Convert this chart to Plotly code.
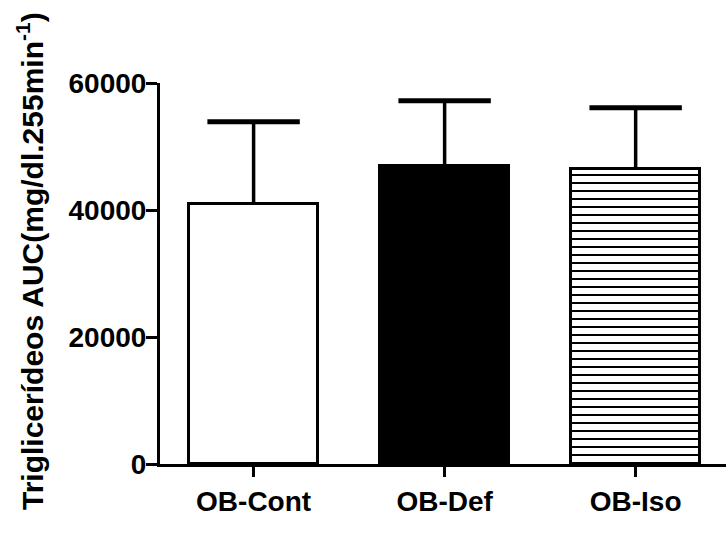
import plotly.graph_objects as go

# Group data: mean AUC and standard deviation (upper error only)
groups = ["OB-Cont", "OB-Def", "OB-Iso"]
means = [41000, 47000, 46500]
sds = [12900, 10200, 9600]
fill_colors = ["white", "black", "black"]
pattern_shapes = ["", "", "-"]

y_ticks = [0, 20000, 40000, 60000]
y_title = "Triglicerídeos AUC(mg/dl.255min<sup>-1</sup>)"

FONT = "Liberation Sans, Arial, Helvetica, sans-serif"

fig = go.Figure()

fig.add_trace(go.Bar(
    x=groups,
    y=means,
    width=0.675,
    marker=dict(
        color=fill_colors,
        line=dict(color="black", width=3),
        pattern=dict(shape=pattern_shapes, fgcolor="white", bgcolor="black",
                     size=8, solidity=0.25, fillmode="replace"),
    ),
    error_y=dict(type="data", symmetric=False, array=sds, arrayminus=[0] * len(sds),
                 width=0, thickness=3.5, color="black"),
    showlegend=False,
))

# Error bar caps
fig.add_trace(go.Scatter(
    x=groups,
    y=[m + s for m, s in zip(means, sds)],
    mode="markers",
    marker=dict(symbol="line-ew", size=66, color="black",
                line=dict(color="black", width=5)),
    showlegend=False,
    hoverinfo="skip",
    cliponaxis=False,
))

fig.update_layout(
    width=726,
    height=533,
    margin=dict(l=160, r=0, t=83, b=69),
    paper_bgcolor="white",
    plot_bgcolor="white",
    font=dict(family=FONT, color="black"),
    bargap=0,
    annotations=[dict(
        text=y_title,
        xref="paper", yref="paper",
        x=(30 - 160) / 566, y=(464 - 261) / 381,
        xanchor="center", yanchor="middle",
        textangle=-90,
        showarrow=False,
        font=dict(family=FONT, size=30, color="black", weight="bold"),
    )],
)

fig.update_xaxes(
    range=[-0.49, 2.473],
    showline=True, linecolor="black", linewidth=3,
    ticks="outside", ticklen=10, tickwidth=3, tickcolor="black",
    tickfont=dict(family=FONT, size=28, color="black", weight="bold"),
    showgrid=False, zeroline=False,
)

fig.update_yaxes(
    range=[0, 60000],
    tickvals=y_ticks,
    ticktext=[str(v) for v in y_ticks],
    showline=True, linecolor="black", linewidth=3,
    ticks="outside", ticklen=11, tickwidth=3, tickcolor="black",
    ticklabelstandoff=-6,
    tickfont=dict(family=FONT, size=28, color="black", weight="bold"),
    showgrid=False, zeroline=False,
)

fig.write_html("out.html")
